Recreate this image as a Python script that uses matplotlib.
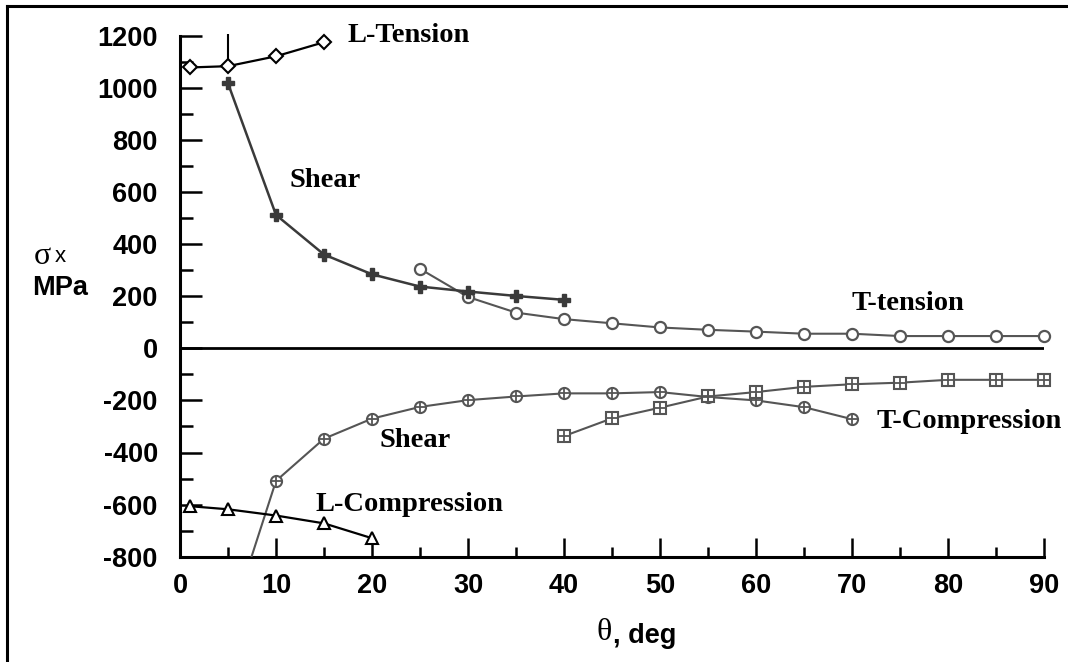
import numpy as np
import matplotlib
matplotlib.use("Agg")
import matplotlib.pyplot as plt
from matplotlib.lines import Line2D
from matplotlib.ticker import MultipleLocator

plt.rcParams["axes.unicode_minus"] = False

# stress vs fibre angle data, MPa
th_lten = [1, 5, 10, 15]
s_lten = [1078, 1083, 1121, 1175]

th_shear_pos = [5, 10, 15, 20, 25, 30, 35, 40]
s_shear_pos = [1017, 512, 360, 284, 237, 218, 201, 186]

th_tten = [25, 30, 35, 40, 45, 50, 55, 60, 65, 70, 75, 80, 85, 90]
s_tten = [305, 197, 137, 112, 96, 80, 71, 64, 56, 56, 47, 47, 47, 47]

th_lcomp = [1, 5, 10, 15, 20]
s_lcomp = [-606, -618, -642, -672, -729]

th_shear_neg = [5, 10, 15, 20, 25, 30, 35, 40, 45, 50, 55, 60, 65, 70]
s_shear_neg = [-1080, -509, -347, -270, -225, -199, -185, -173, -173, -168, -187, -200, -226, -272]

th_tcomp = [40, 45, 50, 55, 60, 65, 70, 75, 80, 85, 90]
s_tcomp = [-337, -269, -228, -185, -168, -148, -138, -132, -121, -121, -121]

# scatter band on the 5 deg L-tension point
err_x = 5
err_lo, err_hi = 1083, 1205

gray = "#555555"
dark = "#3a3a3a"
sans = "Liberation Sans"
serif = "Liberation Serif"

fig = plt.figure(figsize=(10.68, 6.62), dpi=100)
ax = fig.add_axes([180 / 1068, 1 - 556.7 / 662, 864 / 1068, 521 / 662])

ax.plot(th_lten, s_lten, color="black", lw=1.6, marker="D", ms=7,
        mfc="white", mec="black", mew=1.5, clip_on=False, zorder=5)
ax.vlines(err_x, err_lo, err_hi, color="black", lw=1.5, clip_on=False, zorder=4)

ax.plot(th_shear_pos, s_shear_pos, color=dark, lw=1.8, marker="P", ms=9,
        mfc=dark, mec=dark, zorder=4)

ax.plot(th_tten, s_tten, color=gray, lw=1.5, marker="o", ms=8,
        mfc="white", mec=gray, mew=1.6, clip_on=False, zorder=3)

ax.plot(th_lcomp, s_lcomp, color="black", lw=1.6, marker="^", ms=9,
        mfc="white", mec="black", mew=1.5, clip_on=False, zorder=5)

ax.plot(th_shear_neg, s_shear_neg, color=gray, lw=1.5, marker="o", ms=8,
        mfc="white", mec=gray, mew=1.5, zorder=3)
ax.plot(th_shear_neg, s_shear_neg, ls="none", marker="+", ms=8,
        mec=gray, mew=1.3, zorder=4)

ax.plot(th_tcomp, s_tcomp, color=gray, lw=1.5, marker="s", ms=8,
        mfc="white", mec=gray, mew=1.5, clip_on=False, zorder=3)
ax.plot(th_tcomp, s_tcomp, ls="none", marker="+", ms=8,
        mec=gray, mew=1.3, clip_on=False, zorder=4)

ax.axhline(0, color="black", lw=2.0, zorder=2)

ax.set_xlim(0, 90)
ax.set_ylim(-800, 1200)
for side in ("top", "right"):
    ax.spines[side].set_visible(False)
for side in ("left", "bottom"):
    ax.spines[side].set_linewidth(2.2)

ax.xaxis.set_major_locator(MultipleLocator(10))
ax.xaxis.set_minor_locator(MultipleLocator(5))
ax.yaxis.set_major_locator(MultipleLocator(200))
ax.yaxis.set_minor_locator(MultipleLocator(100))
ax.tick_params(axis="x", which="major", direction="in", length=14, width=1.8, pad=12)
ax.tick_params(axis="x", which="minor", direction="in", length=7, width=1.8)
ax.tick_params(axis="y", which="major", direction="in", length=16, width=1.8, pad=16)
ax.tick_params(axis="y", which="minor", direction="in", length=9, width=1.8)
for lab in ax.get_xticklabels() + ax.get_yticklabels():
    lab.set_fontfamily(sans)
    lab.set_fontweight("bold")
    lab.set_fontsize(19.5)

tkw = dict(family=serif, fontweight="bold", fontsize=20.5, ha="left", va="center")
ax.text(17.5, 1200, "L-Tension", **tkw)
ax.text(11.4, 646, "Shear", **tkw)
ax.text(70.0, 171, "T-tension", **tkw)
ax.text(20.8, -353, "Shear", **tkw)
ax.text(14.1, -600, "L-Compression", **tkw)
ax.text(72.6, -281, "T-Compression", **tkw)

# axis titles
fig.text(34 / 1068, 1 - 257 / 662, "σ", family=serif, fontsize=23, va="center", ha="left")
fig.text(55 / 1068, 1 - 256 / 662, "x", family=sans, fontsize=16, va="center", ha="left")
fig.text(32 / 1068, 1 - 288 / 662, "MPa", family=sans, fontweight="bold", fontsize=19.5,
         va="center", ha="left")
fig.text(596 / 1068, 1 - 633 / 662, "θ", family=serif, fontsize=23, va="center", ha="left")
fig.text(613 / 1068, 1 - 636 / 662, ", deg", family=sans, fontweight="bold", fontsize=19.5,
         va="center", ha="left")

# frame around the page, top and left edges
fig.add_artist(Line2D([6.5 / 1068, 1], [1 - 5.5 / 662, 1 - 5.5 / 662],
                      transform=fig.transFigure, color="black", lw=2.2))
fig.add_artist(Line2D([6.5 / 1068, 6.5 / 1068], [0, 1 - 5.5 / 662],
                      transform=fig.transFigure, color="black", lw=2.2))

fig.savefig("out.png", dpi=100, facecolor="white")
